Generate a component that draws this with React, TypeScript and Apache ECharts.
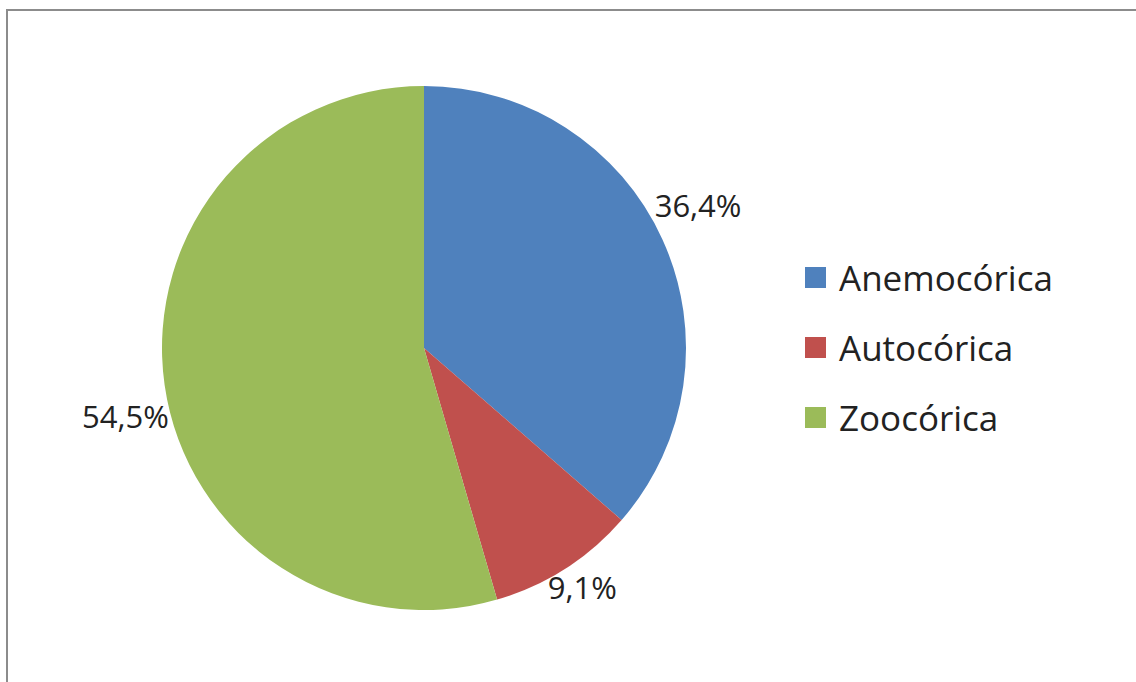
import React, { useEffect, useRef } from "react";
import * as echarts from "echarts";

const categories = ["Anemocórica", "Autocórica", "Zoocórica"];
const values = [36.4, 9.1, 54.5];
const colors = ["#4F81BD", "#C0504D", "#9BBB59"];
const labelOffsets: [number, number][] = [[-31, -26], [-33, 1], [29, 28]];

const FONT = "'Open Sans', 'Noto Sans', sans-serif";

export default function App() {
  const ref = useRef<HTMLDivElement>(null);
  useEffect(() => {
    if (!ref.current) return;
    const chart = echarts.init(ref.current, null, { renderer: "svg" });
    chart.setOption({
      animation: false,
      backgroundColor: "#ffffff",
      graphic: [
        {
          type: "rect",
          shape: { x: 7, y: 10, width: 1300, height: 900 },
          style: { fill: "none", stroke: "#8c8c8c", lineWidth: 2 },
          silent: true,
        },
      ],
      legend: {
        orient: "vertical",
        left: 805,
        top: 260,
        padding: 0,
        itemWidth: 21,
        itemHeight: 21,
        itemGap: 35,
        icon: "rect",
        textStyle: { fontFamily: FONT, fontSize: 35, color: "#222", lineHeight: 35, padding: [0, 0, 0, 8] },
        data: categories,
      },
      series: [
        {
          type: "pie",
          center: [424, 348],
          radius: 262,
          startAngle: 90,
          clockwise: true,
          data: categories.map((name, i) => ({
            name,
            value: values[i],
            itemStyle: { color: colors[i] },
            label: { offset: labelOffsets[i] },
          })),
          label: {
            show: true,
            position: "outside",
            fontFamily: FONT,
            fontSize: 31,
            color: "#222",
            formatter: (p: any) => `${p.value.toFixed(1).replace(".", ",")}%`,
          },
          labelLine: { show: false, length: 20, length2: 0 },
          itemStyle: { borderWidth: 0 },
          emphasis: { disabled: true },
        },
      ],
    });
    return () => chart.dispose();
  }, []);
  return <div ref={ref} style={{ position: "absolute", left: 0, top: 0, width: 1136, height: 682 }} />;
}
